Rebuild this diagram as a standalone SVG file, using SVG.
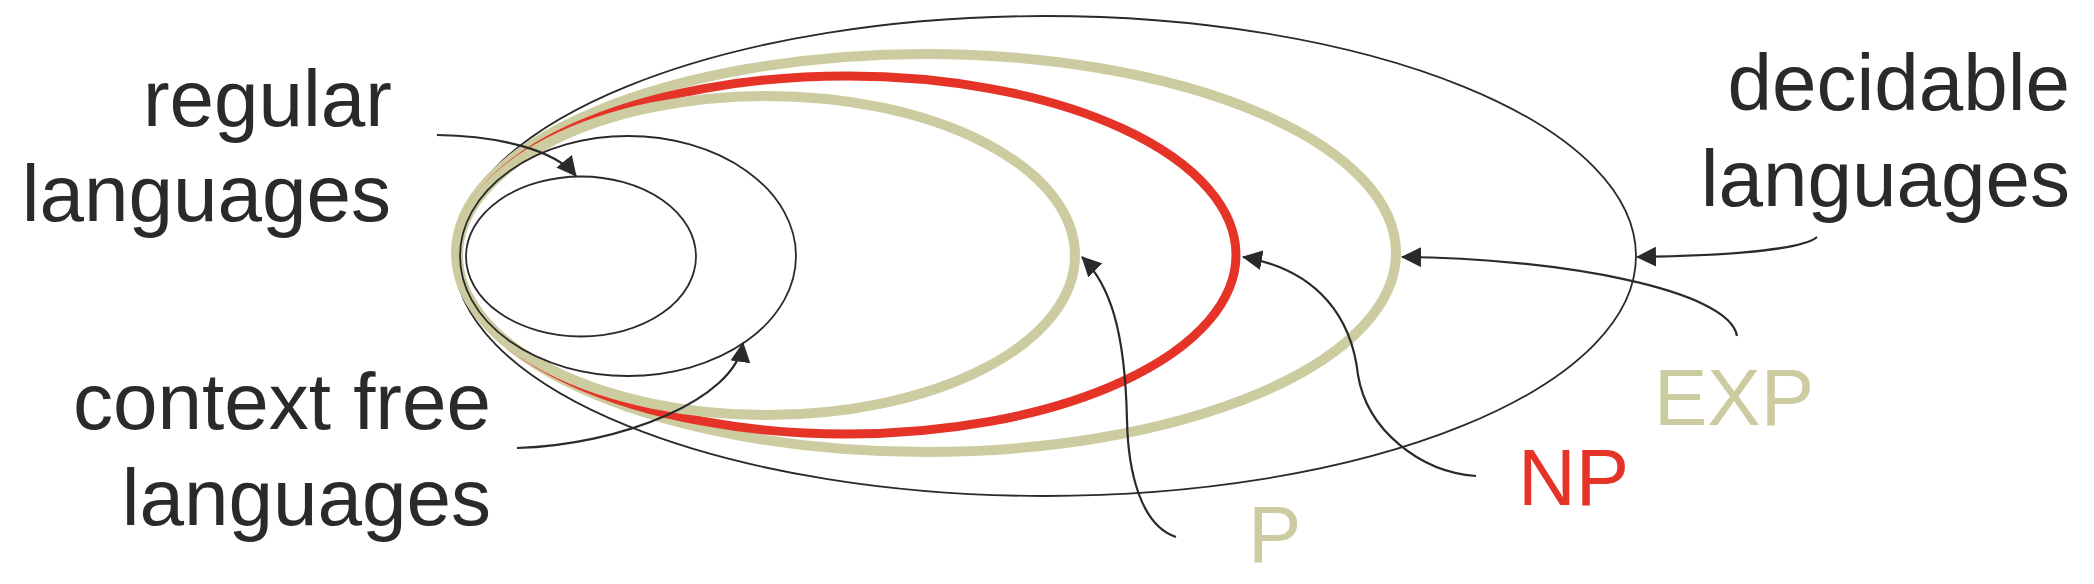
<svg xmlns="http://www.w3.org/2000/svg" width="2094" height="584" viewBox="0 0 2094 584">
<defs>
<style>
.thin{fill:none;stroke:#2a2a2a;stroke-width:1.8}
.khaki{fill:none;stroke:#CCCCA0;stroke-width:10}
.red{fill:none;stroke:#E63328;stroke-width:9}
.conn{fill:none;stroke:#2a2a2a;stroke-width:2.2}
.lbl{font-family:"Liberation Sans",Arial,sans-serif;font-size:80px;fill:#2a2a2a}
.end{text-anchor:end}
</style>
<marker id="ah" markerUnits="userSpaceOnUse" viewBox="0 0 20 20" markerWidth="20" markerHeight="20" refX="19" refY="10" orient="auto">
<path d="M0,0 L20,10 L0,20 Z" fill="#2a2a2a"/>
</marker>
</defs>
<rect width="2094" height="584" fill="#fff"/>
<g id="decidable"><ellipse class="thin" cx="1045" cy="256" rx="591" ry="240"/></g>
<g id="exp"><ellipse class="khaki" cx="926" cy="253" rx="470" ry="199"/></g>
<g id="np"><ellipse class="red" cx="847" cy="255" rx="389" ry="179"/></g>
<g id="p"><ellipse class="khaki" cx="766.5" cy="255.5" rx="308.5" ry="159.5"/></g>
<g id="cfl"><ellipse class="thin" cx="628" cy="256" rx="168" ry="120"/></g>
<g id="regular"><ellipse class="thin" cx="581" cy="256.5" rx="115" ry="80"/></g>
<g id="connectors">
<path class="conn" marker-end="url(#ah)" d="M437,135 C500,136 555,150 576,176"/>
<path class="conn" marker-end="url(#ah)" d="M517,448 C620,445 735,400 743,343"/>
<path class="conn" marker-end="url(#ah)" d="M1817,237 C1800,252 1700,256 1637,257"/>
<path class="conn" marker-end="url(#ah)" d="M1737,336 C1730,290 1560,258 1402,257"/>
<path class="conn" marker-end="url(#ah)" d="M1476,476 C1420,472 1367,430 1358,375 C1352,320 1320,270 1243,257"/>
<path class="conn" marker-end="url(#ah)" d="M1176,537 C1140,525 1128,470 1127,420 C1125,330 1110,285 1082,257"/>
</g>
<g id="labels">
<text class="lbl end" x="392" y="126">regular</text>
<text class="lbl end" x="391" y="221">languages</text>
<text class="lbl end" x="491" y="429">context free</text>
<text class="lbl end" x="491" y="525">languages</text>
<text class="lbl end" x="2070" y="110">decidable</text>
<text class="lbl end" x="2070" y="206">languages</text>
<text class="lbl" x="1654" y="425" fill="#CCCCA0" style="fill:#CCCCA0">EXP</text>
<text class="lbl" x="1518" y="505" style="fill:#E63328">NP</text>
<text class="lbl" x="1248" y="562" style="fill:#CCCCA0">P</text>
</g>
</svg>
